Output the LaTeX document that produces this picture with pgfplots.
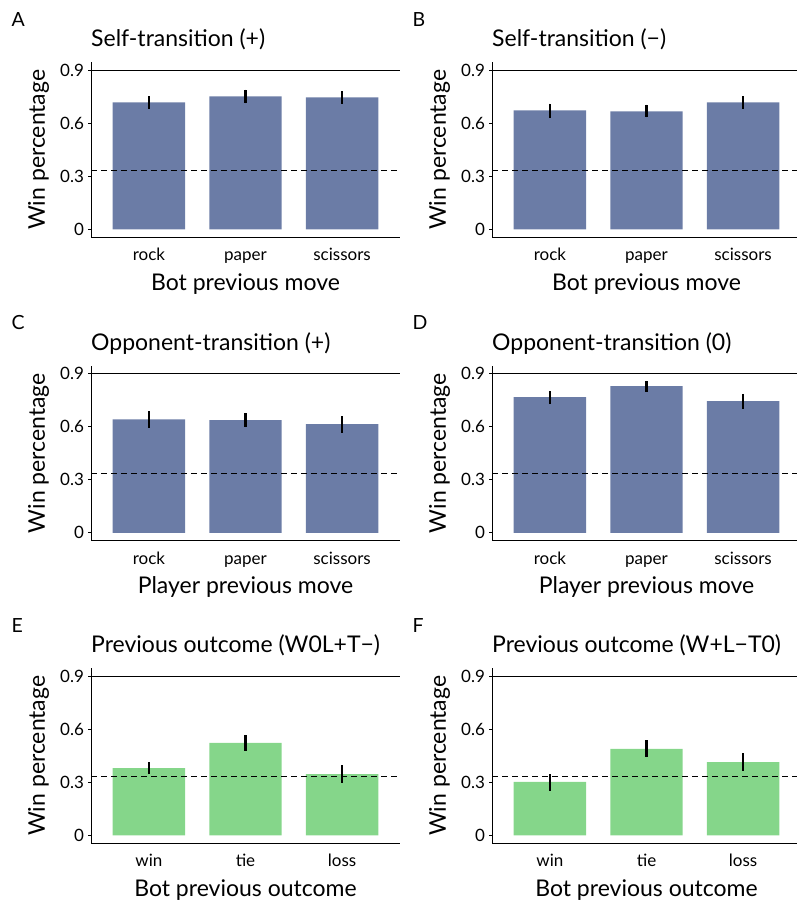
\documentclass[border=0pt]{standalone}
\usepackage{pgfplots}
\pgfplotsset{compat=1.18}
\usepackage{fontspec}
\setmainfont{Lato}
\definecolor{barblue}{HTML}{6B7CA6}
\definecolor{bargreen}{HTML}{85D68A}
\newcommand{\tickfont}{\fontsize{17}{20}\selectfont}
\newcommand{\labfont}{\fontsize{23}{27}\selectfont}
\newcommand{\letfont}{\fontsize{19.5}{23}\selectfont}
\pgfplotsset{
  panel/.style={
    scale only axis, width=309pt, height=175pt,
    xmin=0.4, xmax=3.6, ymin=-0.045, ymax=0.945,
    axis x line*=bottom, axis y line*=left,
    axis line style={line width=0.9pt, black},
    xtick={1,2,3}, xtick style={draw=none},
    ytick={0,0.3,0.6,0.9}, yticklabels={0,0.3,0.6,0.9},
    ytick style={line width=0.8pt, black}, tick align=outside, major tick length=3pt,
    yticklabel style={font=\tickfont, anchor=east, xshift=-0.5pt},
    xticklabel style={font=\tickfont, anchor=base, yshift=-20.5pt},
    ylabel style={font=\labfont, at={(axis description cs:-0.149,0.5)}, anchor=base},
    xlabel style={font=\labfont, at={(axis description cs:0.5,-0.303)}, anchor=base},
    ylabel={Win percentage},
    title style={font=\labfont, at={(axis description cs:0,1)}, anchor=base west, yshift=9.5pt, inner xsep=0pt},
    bar width=0.75, clip=false,
    error bars/y dir=both, error bars/y explicit,
    error bars/error mark=none,
    error bars/error bar style={line width=2.4pt, black},
  },
  refl/.style={black, line width=1.1pt, no marks, forget plot},
  refd/.style={black, line width=1.1pt, dash pattern=on 6pt off 4pt, no marks, forget plot},
}
\begin{document}
\begin{tikzpicture}
\useasboundingbox (0pt,0pt) rectangle (796pt,-902pt);
% Panel A
\node[font=\letfont, anchor=base west, inner sep=0pt] at (11.5pt,-26pt) {A};
\begin{axis}[panel, at={(91pt,-237.3pt)}, anchor=south west,
  title={Self-transition (+)}, xticklabels={rock,paper,scissors}, xlabel={Bot previous move}]
\addplot[ybar, fill=barblue, draw=none] coordinates {
 (1,0.718) += (0,0.034) -= (0,0.036)
 (2,0.752) += (0,0.038) -= (0,0.040)
 (3,0.746) += (0,0.035) -= (0,0.035)};
\addplot[refl] coordinates {(0.4,0.9) (3.6,0.9)};
\addplot[refd] coordinates {(0.4,0.3333) (3.6,0.3333)};
\end{axis}
% Panel B
\node[font=\letfont, anchor=base west, inner sep=0pt] at (412.5pt,-26pt) {B};
\begin{axis}[panel, at={(492pt,-237.3pt)}, anchor=south west,
  title={Self-transition (−)}, xticklabels={rock,paper,scissors}, xlabel={Bot previous move}]
\addplot[ybar, fill=barblue, draw=none] coordinates {
 (1,0.673) += (0,0.038) -= (0,0.044)
 (2,0.667) += (0,0.038) -= (0,0.034)
 (3,0.718) += (0,0.034) -= (0,0.038)};
\addplot[refl] coordinates {(0.4,0.9) (3.6,0.9)};
\addplot[refd] coordinates {(0.4,0.3333) (3.6,0.3333)};
\end{axis}
% Panel C
\node[font=\letfont, anchor=base west, inner sep=0pt] at (11.5pt,-329pt) {C};
\begin{axis}[panel, at={(91pt,-540.7pt)}, anchor=south west,
  title={Opponent-transition (+)}, xticklabels={rock,paper,scissors}, xlabel={Player previous move}]
\addplot[ybar, fill=barblue, draw=none] coordinates {
 (1,0.642) += (0,0.045) -= (0,0.047)
 (2,0.637) += (0,0.041) -= (0,0.040)
 (3,0.614) += (0,0.045) -= (0,0.049)};
\addplot[refl] coordinates {(0.4,0.9) (3.6,0.9)};
\addplot[refd] coordinates {(0.4,0.3333) (3.6,0.3333)};
\end{axis}
% Panel D
\node[font=\letfont, anchor=base west, inner sep=0pt] at (412.5pt,-329pt) {D};
\begin{axis}[panel, at={(492pt,-540.7pt)}, anchor=south west,
  title={Opponent-transition (0)}, xticklabels={rock,paper,scissors}, xlabel={Player previous move}]
\addplot[ybar, fill=barblue, draw=none] coordinates {
 (1,0.767) += (0,0.035) -= (0,0.040)
 (2,0.829) += (0,0.030) -= (0,0.032)
 (3,0.744) += (0,0.041) -= (0,0.043)};
\addplot[refl] coordinates {(0.4,0.9) (3.6,0.9)};
\addplot[refd] coordinates {(0.4,0.3333) (3.6,0.3333)};
\end{axis}
% Panel E
\node[font=\letfont, anchor=base west, inner sep=0pt] at (11.5pt,-632pt) {E};
\begin{axis}[panel, at={(91pt,-843.3pt)}, anchor=south west,
  title={Previous outcome (W0L+T−)}, xticklabels={win,tie,loss}, xlabel={Bot previous outcome}]
\addplot[ybar, fill=bargreen, draw=none] coordinates {
 (1,0.381) += (0,0.034) -= (0,0.034)
 (2,0.523) += (0,0.046) -= (0,0.044)
 (3,0.347) += (0,0.051) -= (0,0.051)};
\addplot[refl] coordinates {(0.4,0.9) (3.6,0.9)};
\addplot[refd] coordinates {(0.4,0.3333) (3.6,0.3333)};
\end{axis}
% Panel F
\node[font=\letfont, anchor=base west, inner sep=0pt] at (412.5pt,-632pt) {F};
\begin{axis}[panel, at={(492pt,-843.3pt)}, anchor=south west,
  title={Previous outcome (W+L−T0)}, xticklabels={win,tie,loss}, xlabel={Bot previous outcome}]
\addplot[ybar, fill=bargreen, draw=none] coordinates {
 (1,0.302) += (0,0.045) -= (0,0.051)
 (2,0.489) += (0,0.049) -= (0,0.046)
 (3,0.415) += (0,0.049) -= (0,0.049)};
\addplot[refl] coordinates {(0.4,0.9) (3.6,0.9)};
\addplot[refd] coordinates {(0.4,0.3333) (3.6,0.3333)};
\end{axis}
\end{tikzpicture}
\end{document}
